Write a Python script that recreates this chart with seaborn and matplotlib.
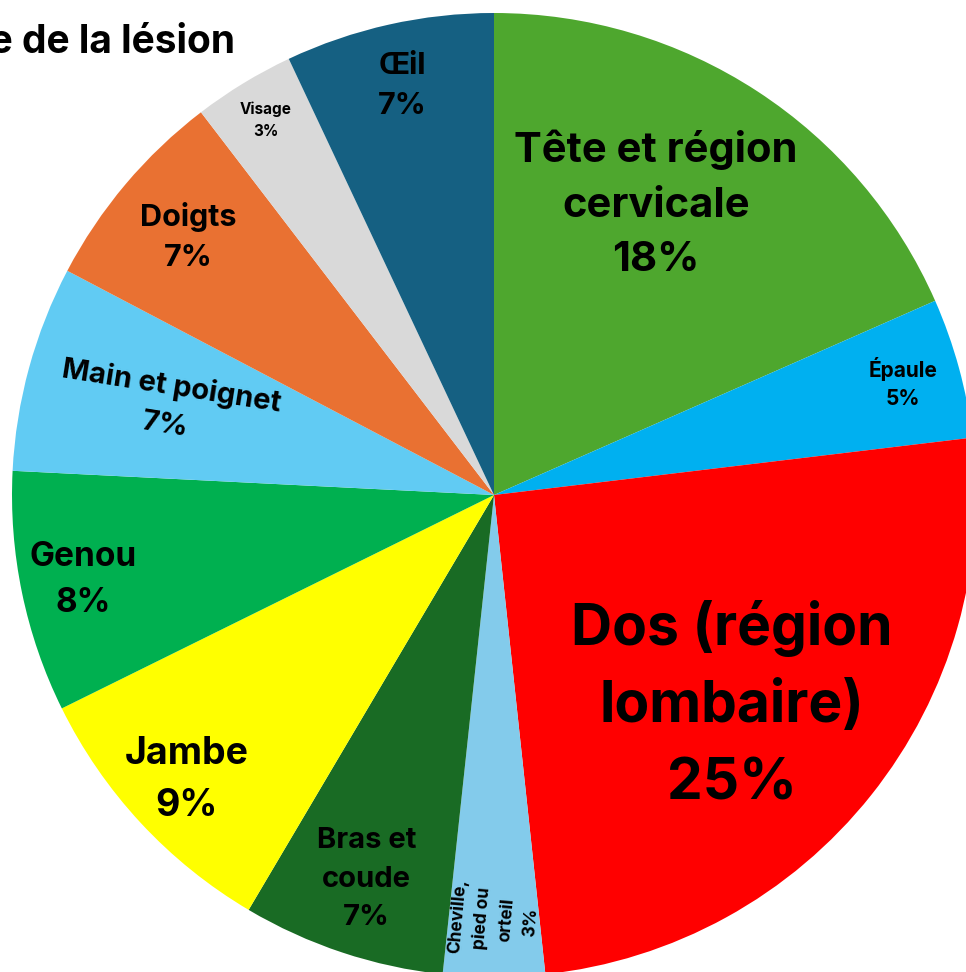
import numpy as np
import seaborn as sns
import matplotlib.pyplot as plt

# style
sns.set_theme(style="white")
plt.rcParams["font.family"] = ["Inter", "DejaVu Sans"]

# data (percent of injuries by body part)
labels = ["Tête et région\ncervicale", "Épaule", "Dos (région\nlombaire)",
          "Cheville,\npied ou\norteil", "Bras et\ncoude", "Jambe", "Genou",
          "Main et poignet", "Doigts", "Visage", "Œil"]
values = [18.4, 4.7, 25.2, 3.4, 6.8, 9.2, 8.1, 6.9, 6.9, 3.4, 7.0]
colors = ["#4EA72E", "#00B0F0", "#FF0000", "#83CBEB", "#196B24", "#FFFF00",
          "#00B050", "#61CBF3", "#E97132", "#D9D9D9", "#156082"]

# label style: radius (fraction of pie radius), angle nudge, font size, rotation
label_r = [0.69, 0.88, 0.66, 0.88, 0.84, 0.87, 0.87, 0.70, 0.83, 0.91, 0.87]
label_dt = [4, 0, -3, 0, 0, 0, 0, 0, 0, 0, 0]
label_size = [30, 15, 41, 12.5, 21, 27, 24, 21, 22, 11, 22]
label_rot = [0, 0, 0, 85, 0, 0, 0, -9, 0, 0, 0]

# figure layout in pixels
W, H = 966, 972
cx, cy, R = 494, 495, 482

fig = plt.figure(figsize=(W / 100, H / 100), dpi=100)
ax = fig.add_axes([0, 0, 1, 1])

wedges, _ = ax.pie(values, colors=colors, startangle=90, counterclock=False,
                   radius=1, wedgeprops=dict(linewidth=0))

for w, lab, v, r, dt, fs, rot in zip(wedges, labels, values, label_r, label_dt,
                                     label_size, label_rot):
    theta = np.deg2rad((w.theta1 + w.theta2) / 2 + dt)
    ax.text(r * np.cos(theta), r * np.sin(theta), f"{lab}\n{round(v)}%",
            ha="center", va="center", fontsize=fs, fontweight="bold",
            rotation=rot, rotation_mode="anchor", linespacing=1.55,
            color="black")

ax.set_aspect("auto")
ax.set_xlim(-cx / R, (W - cx) / R)
ax.set_ylim(-(H - cy) / R, cy / R)
ax.axis("off")

# title, cut off on the left like the original
fig.text(235 / W, 1 - 53 / H, "Siège de la lésion", ha="right", va="baseline",
         fontsize=28, fontweight="bold", color="black")

fig.savefig("out.png", dpi=100)
